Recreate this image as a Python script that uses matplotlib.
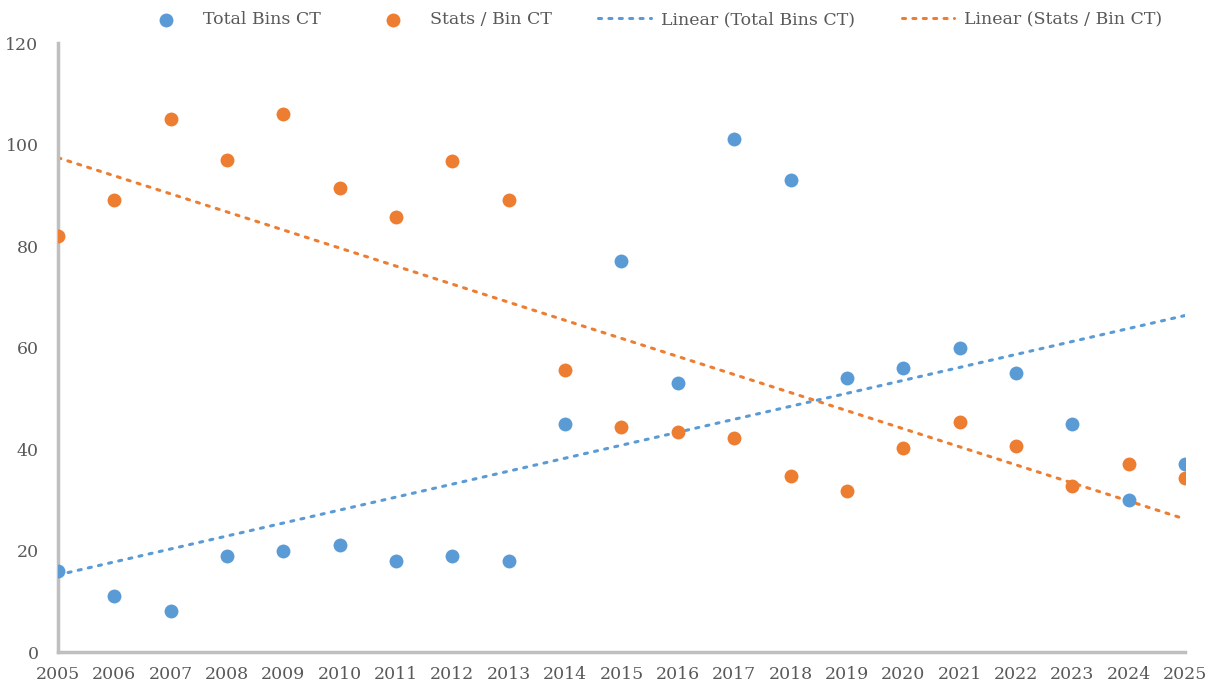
#!/usr/bin/env python3
import matplotlib
matplotlib.use("Agg")
import matplotlib.pyplot as plt

years = list(range(2005, 2026))
total_bins = [16, 11, 8, 19, 20, 21, 18, 19, 18, 45, 77, 53, 101, 93, 54, 56, 60, 55, 45, 30, 37]
stats_per_bin = [82, 89, 105, 97, 106, 91.5, 85.7, 96.7, 89, 55.6, 44.3, 43.3, 42.2, 34.7,
                 31.7, 40.2, 45.3, 40.6, 32.7, 37, 34.3]

# linear trend lines as drawn in the chart (start / end)
trend_years = [2005, 2025]
trend_total = [15.2, 66.3]
trend_stats = [97.4, 26.2]

blue = "#5B9BD5"
orange = "#ED7D31"
grey_text = "#595959"

plt.rcParams["font.family"] = ["DejaVu Serif"]

fig = plt.figure(figsize=(12.15, 6.87), dpi=100)
ax = fig.add_axes([0.0477, 0.0509, 0.9276, 0.8865])

ax.scatter(years, total_bins, s=100, color=blue, zorder=3, label="Total Bins CT", linewidths=0)
ax.scatter(years, stats_per_bin, s=100, color=orange, zorder=3, label="Stats / Bin CT", linewidths=0)

dots = (0, (1.0, 2.4))
ax.plot(trend_years, trend_total, color=blue, linewidth=2.2, linestyle=dots,
        dash_capstyle="round", label="Linear (Total Bins CT)", zorder=2)
ax.plot(trend_years, trend_stats, color=orange, linewidth=2.2, linestyle=dots,
        dash_capstyle="round", label="Linear (Stats / Bin CT)", zorder=2)

ax.set_xlim(2005, 2025)
ax.set_ylim(0, 120)
ax.set_xticks(years)
ax.set_yticks(range(0, 121, 20))
ax.tick_params(length=0, labelsize=12.5, colors=grey_text)
ax.tick_params(axis="y", pad=14)
ax.tick_params(axis="x", pad=10)

for s in ["top", "right"]:
    ax.spines[s].set_visible(False)
for s in ["left", "bottom"]:
    ax.spines[s].set_color("#BFBFBF")
    ax.spines[s].set_linewidth(2.5)

ax.legend(loc="center", bbox_to_anchor=(0.536, 0.971), bbox_transform=fig.transFigure,
          ncol=4, frameon=False, fontsize=12.5, labelcolor=grey_text,
          handlelength=3.0, columnspacing=2.7, handletextpad=0.6)

fig.savefig("out.png", dpi=100)
